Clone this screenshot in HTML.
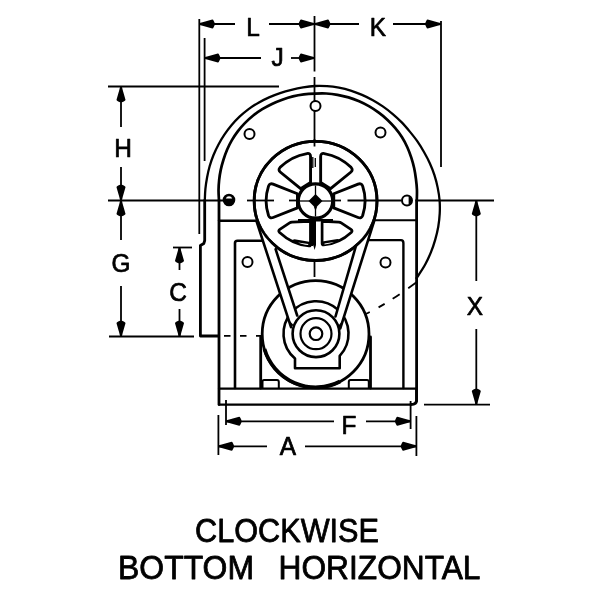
<!DOCTYPE html>
<html><head><meta charset="utf-8"><title>Clockwise Bottom Horizontal</title>
<style>
html,body{margin:0;padding:0;background:#fff;width:600px;height:600px;overflow:hidden;}
svg{display:block;position:absolute;left:0;top:0;}
text{font-family:"Liberation Sans",sans-serif;fill:#000;}
svg{will-change:transform;}
</style></head>
<body>
<svg width="600" height="600" viewBox="0 0 600 600">
<rect width="600" height="600" fill="#fff"/>
<line x1="108" y1="86.5" x2="279" y2="86.5" stroke="#000" stroke-width="1.8" />
<line x1="108" y1="200.5" x2="223" y2="200.5" stroke="#000" stroke-width="1.8" />
<line x1="199.3" y1="19" x2="199.3" y2="234" stroke="#000" stroke-width="1.8" />
<line x1="204.6" y1="38" x2="204.6" y2="161" stroke="#000" stroke-width="1.8" />
<line x1="441" y1="21" x2="441" y2="167" stroke="#000" stroke-width="1.8" />
<line x1="314.5" y1="16" x2="314.5" y2="71.5" stroke="#000" stroke-width="1.8" />
<line x1="314.5" y1="77" x2="314.5" y2="101" stroke="#000" stroke-width="1.8" />
<line x1="314.5" y1="111" x2="314.5" y2="146" stroke="#000" stroke-width="1.8" />
<line x1="314.5" y1="256" x2="314.5" y2="277" stroke="#000" stroke-width="1.8" />
<line x1="199" y1="24" x2="235" y2="24" stroke="#000" stroke-width="1.8" />
<polygon points="199.50,23.00 199.50,25.00 202.50,25.70 212.30,28.50 213.10,28.20 213.90,26.80 214.70,25.00 214.70,23.00 213.90,21.20 213.10,19.80 212.30,19.50 202.50,22.30" fill="#000"/>
<line x1="269" y1="24" x2="359" y2="24" stroke="#000" stroke-width="1.8" />
<polygon points="314.00,25.00 314.00,23.00 311.00,22.30 301.20,19.50 300.40,19.80 299.60,21.20 298.80,23.00 298.80,25.00 299.60,26.80 300.40,28.20 301.20,28.50 311.00,25.70" fill="#000"/>
<polygon points="315.00,23.00 315.00,25.00 318.00,25.70 327.80,28.50 328.60,28.20 329.40,26.80 330.20,25.00 330.20,23.00 329.40,21.20 328.60,19.80 327.80,19.50 318.00,22.30" fill="#000"/>
<line x1="393" y1="24" x2="441" y2="24" stroke="#000" stroke-width="1.8" />
<polygon points="440.50,25.00 440.50,23.00 437.50,22.30 427.70,19.50 426.90,19.80 426.10,21.20 425.30,23.00 425.30,25.00 426.10,26.80 426.90,28.20 427.70,28.50 437.50,25.70" fill="#000"/>
<text transform="translate(253,35.5) scale(0.955,1)" x="0" y="0" font-size="25.6" text-anchor="middle" stroke="#000" stroke-width="0.7" stroke-linejoin="round">L</text>
<text transform="translate(378,35.5) scale(0.955,1)" x="0" y="0" font-size="25.6" text-anchor="middle" stroke="#000" stroke-width="0.7" stroke-linejoin="round">K</text>
<line x1="205" y1="58" x2="261" y2="58" stroke="#000" stroke-width="1.8" />
<polygon points="205.00,57.00 205.00,59.00 208.00,59.70 217.80,62.50 218.60,62.20 219.40,60.80 220.20,59.00 220.20,57.00 219.40,55.20 218.60,53.80 217.80,53.50 208.00,56.30" fill="#000"/>
<line x1="291" y1="58" x2="314" y2="58" stroke="#000" stroke-width="1.8" />
<polygon points="314.00,59.00 314.00,57.00 311.00,56.30 301.20,53.50 300.40,53.80 299.60,55.20 298.80,57.00 298.80,59.00 299.60,60.80 300.40,62.20 301.20,62.50 311.00,59.70" fill="#000"/>
<text transform="translate(277.5,65.5) scale(0.955,1)" x="0" y="0" font-size="25.6" text-anchor="middle" stroke="#000" stroke-width="0.7" stroke-linejoin="round">J</text>
<line x1="121" y1="87" x2="121" y2="127" stroke="#000" stroke-width="1.8" />
<polygon points="122.00,87.00 120.00,87.00 119.30,90.00 116.50,99.80 116.80,100.60 118.20,101.40 120.00,102.20 122.00,102.20 123.80,101.40 125.20,100.60 125.50,99.80 122.70,90.00" fill="#000"/>
<line x1="121" y1="167" x2="121" y2="200" stroke="#000" stroke-width="1.8" />
<polygon points="120.00,200.00 122.00,200.00 122.70,197.00 125.50,187.20 125.20,186.40 123.80,185.60 122.00,184.80 120.00,184.80 118.20,185.60 116.80,186.40 116.50,187.20 119.30,197.00" fill="#000"/>
<text transform="translate(123,157.3) scale(0.955,1)" x="0" y="0" font-size="25.6" text-anchor="middle" stroke="#000" stroke-width="0.7" stroke-linejoin="round">H</text>
<line x1="121" y1="201" x2="121" y2="240" stroke="#000" stroke-width="1.8" />
<polygon points="122.00,201.00 120.00,201.00 119.30,204.00 116.50,213.80 116.80,214.60 118.20,215.40 120.00,216.20 122.00,216.20 123.80,215.40 125.20,214.60 125.50,213.80 122.70,204.00" fill="#000"/>
<line x1="121" y1="286" x2="121" y2="336" stroke="#000" stroke-width="1.8" />
<polygon points="120.00,336.00 122.00,336.00 122.70,333.00 125.50,323.20 125.20,322.40 123.80,321.60 122.00,320.80 120.00,320.80 118.20,321.60 116.80,322.40 116.50,323.20 119.30,333.00" fill="#000"/>
<text transform="translate(121,272) scale(0.955,1)" x="0" y="0" font-size="25.6" text-anchor="middle" stroke="#000" stroke-width="0.7" stroke-linejoin="round">G</text>
<line x1="109" y1="336.5" x2="194" y2="336.5" stroke="#000" stroke-width="1.8" />
<line x1="173" y1="247.5" x2="192" y2="247.5" stroke="#000" stroke-width="1.8" />
<line x1="179.5" y1="248" x2="179.5" y2="270" stroke="#000" stroke-width="1.8" />
<polygon points="180.50,248.00 178.50,248.00 177.80,251.00 175.00,260.80 175.30,261.60 176.70,262.40 178.50,263.20 180.50,263.20 182.30,262.40 183.70,261.60 184.00,260.80 181.20,251.00" fill="#000"/>
<line x1="179.5" y1="309" x2="179.5" y2="336" stroke="#000" stroke-width="1.8" />
<polygon points="178.50,336.00 180.50,336.00 181.20,333.00 184.00,323.20 183.70,322.40 182.30,321.60 180.50,320.80 178.50,320.80 176.70,321.60 175.30,322.40 175.00,323.20 177.80,333.00" fill="#000"/>
<text transform="translate(178,300.5) scale(0.955,1)" x="0" y="0" font-size="25.6" text-anchor="middle" stroke="#000" stroke-width="0.7" stroke-linejoin="round">C</text>
<line x1="417" y1="200.5" x2="494" y2="200.5" stroke="#000" stroke-width="1.8" />
<line x1="476.3" y1="201" x2="476.3" y2="281" stroke="#000" stroke-width="1.8" />
<polygon points="477.30,201.00 475.30,201.00 474.60,204.00 471.80,213.80 472.10,214.60 473.50,215.40 475.30,216.20 477.30,216.20 479.10,215.40 480.50,214.60 480.80,213.80 478.00,204.00" fill="#000"/>
<line x1="476.3" y1="329" x2="476.3" y2="404" stroke="#000" stroke-width="1.8" />
<polygon points="475.30,404.00 477.30,404.00 478.00,401.00 480.80,391.20 480.50,390.40 479.10,389.60 477.30,388.80 475.30,388.80 473.50,389.60 472.10,390.40 471.80,391.20 474.60,401.00" fill="#000"/>
<text transform="translate(475,315) scale(0.955,1)" x="0" y="0" font-size="25.6" text-anchor="middle" stroke="#000" stroke-width="0.7" stroke-linejoin="round">X</text>
<line x1="424" y1="404.7" x2="490" y2="404.7" stroke="#000" stroke-width="1.8" />
<line x1="226" y1="400" x2="226" y2="425" stroke="#000" stroke-width="1.8" />
<line x1="410.6" y1="401" x2="410.6" y2="429" stroke="#000" stroke-width="1.8" />
<line x1="226" y1="421.3" x2="334" y2="421.3" stroke="#000" stroke-width="1.8" />
<polygon points="226.30,420.30 226.30,422.30 229.30,423.00 239.10,425.80 239.90,425.50 240.70,424.10 241.50,422.30 241.50,420.30 240.70,418.50 239.90,417.10 239.10,416.80 229.30,419.60" fill="#000"/>
<line x1="366" y1="421.3" x2="410" y2="421.3" stroke="#000" stroke-width="1.8" />
<polygon points="410.30,422.30 410.30,420.30 407.30,419.60 397.50,416.80 396.70,417.10 395.90,418.50 395.10,420.30 395.10,422.30 395.90,424.10 396.70,425.50 397.50,425.80 407.30,423.00" fill="#000"/>
<text transform="translate(349,434) scale(0.955,1)" x="0" y="0" font-size="25.6" text-anchor="middle" stroke="#000" stroke-width="0.7" stroke-linejoin="round">F</text>
<line x1="218.4" y1="415" x2="218.4" y2="455" stroke="#000" stroke-width="1.8" />
<line x1="416.4" y1="416" x2="416.4" y2="456" stroke="#000" stroke-width="1.8" />
<line x1="218.4" y1="446.3" x2="267" y2="446.3" stroke="#000" stroke-width="1.8" />
<polygon points="218.70,445.30 218.70,447.30 221.70,448.00 231.50,450.80 232.30,450.50 233.10,449.10 233.90,447.30 233.90,445.30 233.10,443.50 232.30,442.10 231.50,441.80 221.70,444.60" fill="#000"/>
<line x1="305" y1="446.3" x2="416" y2="446.3" stroke="#000" stroke-width="1.8" />
<polygon points="416.10,447.30 416.10,445.30 413.10,444.60 403.30,441.80 402.50,442.10 401.70,443.50 400.90,445.30 400.90,447.30 401.70,449.10 402.50,450.50 403.30,450.80 413.10,448.00" fill="#000"/>
<text transform="translate(288,455) scale(0.955,1)" x="0" y="0" font-size="25.6" text-anchor="middle" stroke="#000" stroke-width="0.7" stroke-linejoin="round">A</text>
<path d="M204.80,200.50 C204.90,198.58 205.03,192.80 205.40,188.98 C205.78,185.16 206.36,181.34 207.07,177.56 C207.77,173.77 208.58,169.98 209.64,166.27 C210.70,162.55 211.97,158.87 213.42,155.27 C214.88,151.68 216.54,148.15 218.38,144.71 C220.21,141.28 222.22,137.92 224.41,134.68 C226.59,131.44 228.95,128.29 231.47,125.29 C233.99,122.29 236.70,119.40 239.55,116.70 C242.40,114.00 245.43,111.43 248.59,109.09 C251.75,106.76 255.12,104.66 258.53,102.70 C261.95,100.74 265.48,98.95 269.07,97.34 C272.66,95.73 276.36,94.31 280.09,93.05 C283.82,91.79 287.63,90.72 291.46,89.77 C295.30,88.82 299.18,87.97 303.11,87.34 C307.03,86.71 311.02,86.20 315.00,86.00 C318.98,85.80 323.02,85.88 327.02,86.17 C331.01,86.46 335.02,87.00 338.97,87.74 C342.91,88.49 346.85,89.46 350.69,90.65 C354.53,91.84 358.33,93.28 362.03,94.88 C365.73,96.47 369.36,98.28 372.88,100.24 C376.41,102.21 379.85,104.37 383.16,106.68 C386.48,108.99 389.69,111.49 392.79,114.10 C395.89,116.72 398.91,119.48 401.75,122.39 C404.58,125.31 407.21,128.45 409.82,131.61 C412.43,134.78 415.05,137.98 417.41,141.38 C419.77,144.77 421.92,148.34 423.99,151.98 C426.05,155.61 428.07,159.34 429.81,163.20 C431.55,167.05 433.13,171.04 434.44,175.11 C435.75,179.18 436.82,183.37 437.68,187.61 C438.54,191.84 439.26,196.17 439.60,200.50 C439.94,204.83 439.94,209.24 439.71,213.61 C439.49,217.97 439.00,222.37 438.26,226.70 C437.51,231.03 436.46,235.33 435.24,239.57 C434.03,243.81 432.62,248.03 430.97,252.13 C429.32,256.24 427.44,260.29 425.32,264.19 C423.20,268.09 419.74,273.21 418.26,275.53 C416.78,277.84 416.75,277.64 416.45,278.06" fill="none" stroke="#000" stroke-width="2.3" stroke-linejoin="round" stroke-linecap="round" />
<path d="M204.7,200.5 L204.7,240.5 L203.8,243.5 L200.4,245.5 L200.4,336 L218,336" fill="none" stroke="#000" stroke-width="2.8" stroke-linejoin="round" stroke-linecap="round" />
<path d="M416.5,282.3 C400,294 385,305 366,313.8" fill="none" stroke="#000" stroke-width="1.8" stroke-dasharray="10,10.5,8.5,9.5,7,10,4,30"/>
<line x1="224" y1="335.8" x2="262" y2="335.8" stroke="#000" stroke-width="1.8" stroke-dasharray="6.5,9.5"/>
<path d="M219.00,200.50 C218.92,198.81 218.51,193.76 218.53,190.36 C218.55,186.96 218.77,183.54 219.14,180.12 C219.51,176.71 220.03,173.27 220.75,169.88 C221.47,166.48 222.41,163.10 223.46,159.74 C224.52,156.39 225.68,153.01 227.08,149.74 C228.49,146.47 230.09,143.23 231.90,140.12 C233.71,137.02 235.75,134.00 237.95,131.12 C240.15,128.25 242.56,125.49 245.11,122.88 C247.66,120.28 250.38,117.78 253.25,115.50 C256.11,113.22 259.17,111.14 262.29,109.20 C265.41,107.27 268.67,105.49 271.99,103.91 C275.32,102.32 278.76,100.94 282.24,99.69 C285.72,98.44 289.27,97.28 292.87,96.40 C296.47,95.52 300.16,94.87 303.85,94.40 C307.54,93.94 311.27,93.75 315.00,93.60 C318.73,93.45 322.50,93.31 326.24,93.51 C329.99,93.72 333.76,94.16 337.47,94.81 C341.18,95.45 344.89,96.28 348.51,97.37 C352.12,98.46 355.68,99.83 359.15,101.34 C362.61,102.85 366.03,104.55 369.30,106.45 C372.57,108.34 375.74,110.46 378.78,112.71 C381.83,114.96 384.80,117.34 387.55,119.92 C390.31,122.50 392.90,125.30 395.31,128.19 C397.72,131.08 400.02,134.11 402.02,137.27 C404.02,140.44 405.77,143.81 407.32,147.20 C408.86,150.59 410.14,154.12 411.29,157.63 C412.43,161.14 413.41,164.70 414.19,168.27 C414.96,171.84 415.49,175.46 415.94,179.04 C416.40,182.63 416.80,186.21 416.94,189.79 C417.08,193.36 416.82,198.71 416.80,200.50" fill="none" stroke="#000" stroke-width="2.7" stroke-linejoin="round" stroke-linecap="round" />
<path d="M219,200.5 L219,404.5" fill="none" stroke="#000" stroke-width="2.8" stroke-linejoin="round" stroke-linecap="round" />
<path d="M416.6,200.5 L416.6,401" fill="none" stroke="#000" stroke-width="2.8" stroke-linejoin="round" stroke-linecap="round" />
<path d="M219,220.7 L256,220.7" fill="none" stroke="#000" stroke-width="2.4" stroke-linejoin="round" stroke-linecap="round" />
<path d="M374,220.3 L416.6,220.3" fill="none" stroke="#000" stroke-width="2.0" stroke-linejoin="round" stroke-linecap="round" />
<path d="M235,388 L235,243 Q235,240.7 237.5,240.7 L262.5,240.7" fill="none" stroke="#000" stroke-width="2.6" stroke-linejoin="round" stroke-linecap="round" />
<path d="M403.4,388 L403.4,243 Q403.4,240.1 401,240.1 L368,240.1" fill="none" stroke="#000" stroke-width="2.4" stroke-linejoin="round" stroke-linecap="round" />
<path d="M219,388.6 L416,388.6" fill="none" stroke="#000" stroke-width="2.3" stroke-linejoin="round" stroke-linecap="round" />
<path d="M219,404.6 L411,404.6" fill="none" stroke="#000" stroke-width="2.1" stroke-linejoin="round" stroke-linecap="round" />
<path d="M416.6,389 L416.6,400 Q416.6,404.5 411,404.5" fill="none" stroke="#000" stroke-width="2.8" stroke-linejoin="round" stroke-linecap="round" />
<circle cx="315.5" cy="106" r="5.0" fill="none" stroke="#000" stroke-width="2.0"/>
<circle cx="249.5" cy="134" r="5.0" fill="none" stroke="#000" stroke-width="2.0"/>
<circle cx="380.5" cy="132.5" r="5.0" fill="none" stroke="#000" stroke-width="2.0"/>
<circle cx="407" cy="200.6" r="5.0" fill="none" stroke="#000" stroke-width="2.0"/>
<circle cx="247.5" cy="262" r="5.0" fill="none" stroke="#000" stroke-width="2.0"/>
<circle cx="385.5" cy="262.4" r="5.0" fill="none" stroke="#000" stroke-width="2.0"/>
<circle cx="229" cy="200" r="5.2" fill="#000" stroke="#000" stroke-width="2.2"/>
<path d="M408.6,196.2 A4.7,4.7 0 0 1 408.6,205 Z" fill="#000"/>
<path d="M225.8,198.6 A3.4,3.4 0 0 1 232.2,198.6 Z" fill="#fff"/>
<path d="M260.7,337 L260.7,388" fill="none" stroke="#000" stroke-width="2.8" stroke-linejoin="round" stroke-linecap="round" />
<path d="M370.5,337 L370.5,388" fill="none" stroke="#000" stroke-width="2.8" stroke-linejoin="round" stroke-linecap="round" />
<path d="M262.5,388 L262.5,381.5 Q262.5,380 264,380 L277,380 Q278.8,380 278.8,382 L278.8,388" fill="none" stroke="#000" stroke-width="2" stroke-linejoin="round" stroke-linecap="round" />
<path d="M348.8,388 L348.8,382 Q348.8,380 350.5,380 L367,380 Q368.8,380 368.8,381.5 L368.8,388" fill="none" stroke="#000" stroke-width="2" stroke-linejoin="round" stroke-linecap="round" />
<circle cx="315.6" cy="334.0" r="53.4" fill="#fff" stroke="#000" stroke-width="2.8"/>
<path d="M264.5,349 A53.4,53.4 0 0 0 340,381.5" fill="none" stroke="#000" stroke-width="3.8"/>
<ellipse cx="315.6" cy="200.9" rx="61.4" ry="59.6" fill="#fff" stroke="#000" stroke-width="2.8"/>
<path d="M295.0,368.3 L295.0,358.50 A32.5,32.5 0 1 1 339.7,355.94 L339.7,368.3 Z" fill="#fff" stroke="#000" stroke-width="2.6" stroke-linejoin="round" stroke-linecap="round" />
<polygon points="256.5,221 291.2,327.5 316,334 297.5,316 274.8,246" fill="#fff"/>
<polygon points="374,221 340.2,328.5 316,334 335.5,317 355.5,246" fill="#fff"/>
<ellipse cx="315.6" cy="200.9" rx="61.4" ry="59.6" fill="none" stroke="#000" stroke-width="2.8"/>
<path d="M256.4,220.8 L291.0,327.2" fill="none" stroke="#000" stroke-width="2.6" stroke-linejoin="round" stroke-linecap="round" />
<path d="M275.6,249.2 L297.2,315.5" fill="none" stroke="#000" stroke-width="2.6" stroke-linejoin="round" stroke-linecap="round" />
<path d="M374.2,220.8 L340.3,328.3" fill="none" stroke="#000" stroke-width="2.6" stroke-linejoin="round" stroke-linecap="round" />
<path d="M355.8,246.5 L335.5,316.5" fill="none" stroke="#000" stroke-width="2.6" stroke-linejoin="round" stroke-linecap="round" />
<polygon points="291,327.2 288.8,320 293.5,325" fill="#000"/>
<polygon points="340.3,328.3 342.8,320.5 338,326" fill="#000"/>
<circle cx="316.0" cy="333.7" r="23.4" fill="#fff" stroke="#000" stroke-width="2.6"/>
<circle cx="316.0" cy="333.7" r="15.5" fill="none" stroke="#000" stroke-width="2.2"/>
<circle cx="316.0" cy="333.7" r="6.3" fill="none" stroke="#000" stroke-width="2.2"/>
<path d="M41.26,16.67 Q44.50,17.98 45.70,14.69 A48.0,48.0 0 0 0 45.70,-14.69 Q44.50,-17.98 41.26,-16.67 L17.62,-7.12 L17.62,7.12 Z" transform="translate(315.6,200.8) scale(-1.03,1)" fill="none" stroke="#000" stroke-width="2.8" stroke-linejoin="round"/>
<path d="M41.26,16.67 Q44.50,17.98 45.70,14.69 A48.0,48.0 0 0 0 45.70,-14.69 Q44.50,-17.98 41.26,-16.67 L17.62,-7.12 L17.62,7.12 Z" transform="translate(315.6,200.8) scale(1.03,1)" fill="none" stroke="#000" stroke-width="2.8" stroke-linejoin="round"/>
<path d="M34.09,-28.60 Q36.77,-30.85 34.42,-33.45 A48.0,48.0 0 0 0 8.37,-47.27 Q4.90,-47.75 4.90,-44.25 L4.90,-18.36 L14.55,-12.21 Z" transform="translate(315.6,200.8) scale(-1.03,1)" fill="none" stroke="#000" stroke-width="2.8" stroke-linejoin="round"/>
<path d="M34.09,-28.60 Q36.77,-30.85 34.42,-33.45 A48.0,48.0 0 0 0 8.37,-47.27 Q4.90,-47.75 4.90,-44.25 L4.90,-18.36 L14.55,-12.21 Z" transform="translate(315.6,200.8) scale(1.03,1)" fill="none" stroke="#000" stroke-width="2.8" stroke-linejoin="round"/>
<path d="M280.2,229.2 L289.6,222.9 Q290.6,222.2 292,222.1 L309.3,221.4 Q310.6,221.4 310.6,222.8 L310.6,244.6 Q310.6,246.2 309,245.9 C300,245.3 289,241.3 279.3,232.2 Q277.8,230.8 280.2,229.2 Z" fill="none" stroke="#000" stroke-width="2.7" stroke-linejoin="round" stroke-linecap="round" />
<path d="M350.6,229.2 L341.2,222.9 Q340.2,222.2 338.8,222.1 L323.4,221.4 Q322.1,221.4 322.1,222.8 L322.1,243.6 Q322.1,245.2 323.7,244.9 C332,244.3 342,241 351.5,232.2 Q353,230.8 350.6,229.2 Z" fill="none" stroke="#000" stroke-width="2.7" stroke-linejoin="round" stroke-linecap="round" />
<line x1="298" y1="220.3" x2="333" y2="220.3" stroke="#000" stroke-width="2.6" />
<path d="M294.5,239.3 L310.6,242 L310.6,246.3 C303,245.6 296,243.4 290.5,240.4 Z" fill="#000"/>
<path d="M298,242.4 L308.2,244.0 L308.2,245.0 C304,244.6 300,243.6 298,242.4 Z" fill="#fff"/>
<path d="M337.5,239 L322.1,241.5 L322.1,245.3 C329,244.8 335.5,243 341,240 Z" fill="#000"/>
<path d="M334,241.9 L324.5,243.4 L324.5,244.4 C328,244.0 332,243 334,241.9 Z" fill="#fff"/>
<circle cx="315.5" cy="201.0" r="17.2" fill="#fff" stroke="#000" stroke-width="3.2"/>
<line x1="315.5" y1="185.5" x2="315.5" y2="216.5" stroke="#000" stroke-width="1.3" />
<line x1="300.0" y1="201.0" x2="331.0" y2="201.0" stroke="#000" stroke-width="1.3" />
<polygon points="315.5,194.0 322.5,201.0 315.5,208.0 308.5,201.0" fill="#000"/>
<polygon points="313.8,206.5 317.2,206.5 315.5,211.0" fill="#000"/>
<line x1="247" y1="200.5" x2="274" y2="200.5" stroke="#000" stroke-width="1.8" />
<line x1="289" y1="200.5" x2="300" y2="200.5" stroke="#000" stroke-width="1.8" />
<line x1="334" y1="200.5" x2="341" y2="200.5" stroke="#000" stroke-width="1.8" />
<line x1="347.5" y1="200.5" x2="401.5" y2="200.5" stroke="#000" stroke-width="1.8" />
<line x1="314.5" y1="139" x2="314.5" y2="146.5" stroke="#000" stroke-width="1.8" />
<line x1="312.8" y1="157" x2="312.8" y2="168" stroke="#000" stroke-width="1.3" />
<line x1="315.3" y1="158" x2="315.3" y2="167" stroke="#000" stroke-width="1.3" />
<polygon points="309.4,220 316,220 316,245 314.6,250 313.2,245 313,246 309.4,246" fill="#000"/>
<text x="195" y="541.6" font-size="33.2" textLength="184" lengthAdjust="spacingAndGlyphs" stroke="#000" stroke-width="0.8" stroke-linejoin="round">CLOCKWISE</text>
<text x="118" y="579.4" font-size="33.2" textLength="136" lengthAdjust="spacingAndGlyphs" stroke="#000" stroke-width="0.8" stroke-linejoin="round">BOTTOM</text>
<text x="278.5" y="579.4" font-size="33.2" textLength="202" lengthAdjust="spacingAndGlyphs" stroke="#000" stroke-width="0.8" stroke-linejoin="round">HORIZONTAL</text>
</svg>
</body></html>
